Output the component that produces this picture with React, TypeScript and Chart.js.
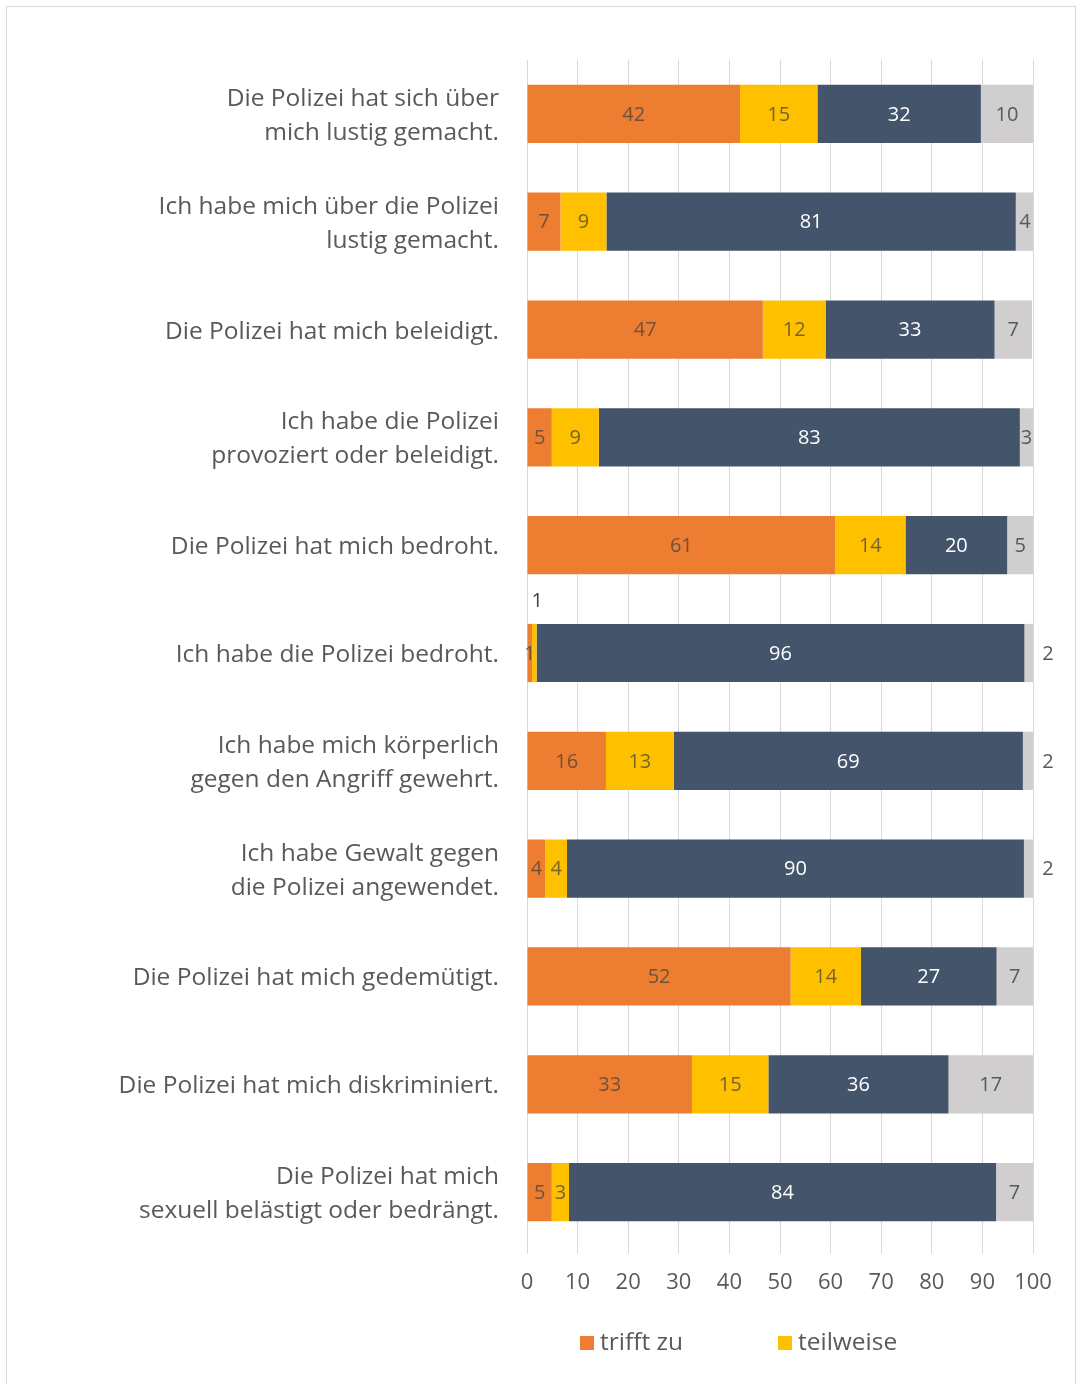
import React, { useEffect, useRef } from 'react';
import { Chart, registerables } from 'chart.js';

Chart.register(...registerables);

const categories: string[][] = [
  ['Die Polizei hat sich über', 'mich lustig gemacht.'],
  ['Ich habe mich über die Polizei', 'lustig gemacht.'],
  ['Die Polizei hat mich beleidigt.'],
  ['Ich habe die Polizei', 'provoziert oder beleidigt.'],
  ['Die Polizei hat mich bedroht.'],
  ['Ich habe die Polizei bedroht.'],
  ['Ich habe mich körperlich', 'gegen den Angriff gewehrt.'],
  ['Ich habe Gewalt gegen', 'die Polizei angewendet.'],
  ['Die Polizei hat mich gedemütigt.'],
  ['Die Polizei hat mich diskriminiert.'],
  ['Die Polizei hat mich', 'sexuell belästigt oder bedrängt.'],
];

const trifftZu = [42.1, 6.6, 46.6, 4.9, 60.9, 1.0, 15.6, 3.6, 52.1, 32.6, 4.9];
const teilweise = [15.3, 9.1, 12.4, 9.3, 13.9, 0.9, 13.4, 4.3, 13.9, 15.1, 3.4];
const trifftNichtZu = [32.3, 80.9, 33.4, 83.2, 20.1, 96.4, 69.0, 90.3, 26.8, 35.6, 84.4];
const keineAngabe = [10.3, 3.6, 7.4, 2.6, 5.1, 1.7, 2.0, 1.8, 7.2, 16.7, 7.3];

const seriesNames = ['trifft zu', 'teilweise', 'trifft nicht zu', 'keine Angabe'];
const seriesColors = ['#ED7D31', '#FFC000', '#44546A', '#D0CECE'];
const labelColors = ['rgba(64,64,64,0.72)', 'rgba(64,64,64,0.72)', '#FFFFFF', '#595959'];
const legendShown = [0, 1];

const xMin = 0;
const xMax = 100;
const xStep = 10;

const FONT = '"Open Sans", sans-serif';

const dataLabelPlugin = {
  id: 'segmentLabels',
  afterDatasetsDraw(chart: any) {
    const ctx = chart.ctx;
    ctx.save();
    ctx.font = `20px ${FONT}`;
    ctx.textAlign = 'center';
    ctx.textBaseline = 'middle';
    chart.data.datasets.forEach((ds: any, i: number) => {
      const meta = chart.getDatasetMeta(i);
      meta.data.forEach((bar: any, j: number) => {
        const v = ds.data[j];
        const p = bar.getProps(['x', 'y', 'base', 'height'], true);
        let tx = (p.x + p.base) / 2;
        let ty = p.y + 1;
        let color = labelColors[i];
        if (i === 3 && v < 2.5) {
          tx = chart.chartArea.right + 15;
          color = '#595959';
        } else if (i === 1 && v < 1.5) {
          ty = p.y - p.height / 2 - 23;
          tx = tx + 3;
          color = '#404040';
        }
        ctx.fillStyle = color;
        ctx.fillText(String(Math.round(v)), tx, ty);
      });
    });
    ctx.restore();
  },
};

const legendPlugin = {
  id: 'bottomLegend',
  afterDraw(chart: any) {
    const ctx = chart.ctx;
    const area = chart.chartArea;
    const offsets = [53, 251];
    const cy = area.bottom + 97;
    ctx.save();
    ctx.font = `24.5px ${FONT}`;
    ctx.textAlign = 'left';
    ctx.textBaseline = 'middle';
    legendShown.forEach((idx, k) => {
      const ds = chart.data.datasets[idx];
      const bx = area.left + offsets[k];
      ctx.fillStyle = ds.backgroundColor;
      ctx.fillRect(bx, cy - 7, 14, 14);
      ctx.fillStyle = '#595959';
      ctx.fillText(ds.label, bx + 20, cy);
    });
    ctx.restore();
  },
};

export default function App() {
  const ref = useRef<HTMLCanvasElement>(null);

  useEffect(() => {
    if (!ref.current) return;
    const seriesData = [trifftZu, teilweise, trifftNichtZu, keineAngabe];
    const chart = new Chart(ref.current, {
      type: 'bar',
      data: {
        labels: categories,
        datasets: seriesData.map((d, i) => ({
          label: seriesNames[i],
          data: d,
          backgroundColor: seriesColors[i],
          borderWidth: 0,
          barPercentage: 0.54,
          categoryPercentage: 1,
        })),
      },
      options: {
        indexAxis: 'y',
        responsive: false,
        animation: false,
        layout: { padding: { top: 53, right: 42, left: 0, bottom: 0 } },
        plugins: {
          legend: { display: false },
          tooltip: { enabled: false },
        },
        scales: {
          x: {
            stacked: true,
            min: xMin,
            max: xMax,
            ticks: {
              stepSize: xStep,
              color: '#595959',
              font: { family: FONT, size: 22 },
              padding: 16,
            },
            grid: { color: '#D9D9D9', lineWidth: 1, tickLength: 8, drawTicks: true },
            border: { display: false },
            afterFit: (scale: any) => {
              scale.height = 138;
            },
          },
          y: {
            stacked: true,
            ticks: {
              color: '#595959',
              font: { family: FONT, size: 24.5, lineHeight: 1.39 },
              padding: 28,
              labelOffset: 2,
            },
            grid: { display: false, drawTicks: false },
            border: { display: false },
            afterFit: (scale: any) => {
              scale.width = 520;
              scale.paddingTop = 0;
              scale.paddingBottom = 0;
            },
          },
        },
      },
      plugins: [dataLabelPlugin, legendPlugin],
    });
    return () => chart.destroy();
  }, []);

  return (
    <div
      style={{
        position: 'absolute',
        left: 6,
        top: 6,
        width: 1070,
        height: 1378,
        border: '1px solid #D9D9D9',
        borderBottom: 'none',
        boxSizing: 'border-box',
        background: '#FFFFFF',
        overflow: 'hidden',
      }}
    >
      <canvas
        ref={ref}
        width={1068}
        height={1377}
        style={{ display: 'block', width: 1068, height: 1377 }}
      />
    </div>
  );
}
